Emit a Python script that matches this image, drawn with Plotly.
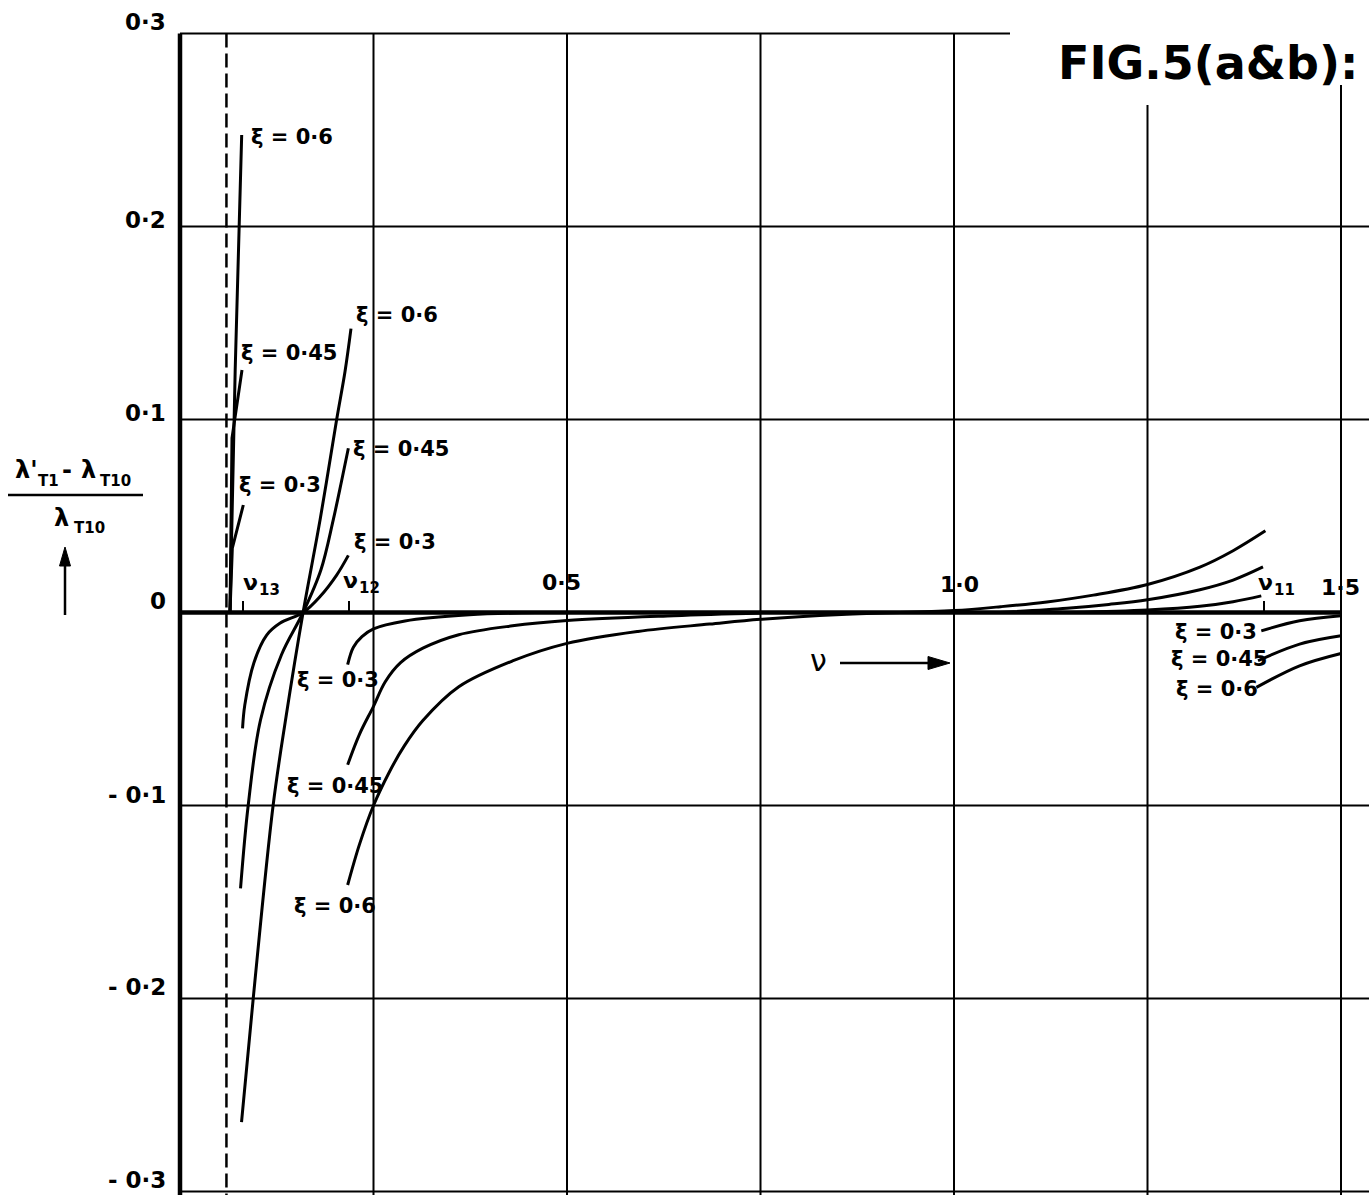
import plotly.graph_objects as go

# ---------------- data (nu, relative change) ----------------
# group near nu13
nu_a06 = [0.0646, 0.0713, 0.0797]
val_a06 = [0.0, 0.1256, 0.2474]
nu_a045 = [0.0646, 0.0672, 0.0801]
val_a045 = [0.0, 0.0904, 0.1256]
nu_a03 = [0.0646, 0.0676, 0.0818]
val_a03 = [0.0, 0.0333, 0.0557]

# group through nu12 crossing
nu_b03 = [0.0808, 0.0837, 0.0955, 0.1120, 0.1290, 0.159, 0.181, 0.2024, 0.2175]
val_b03 = [-0.060, -0.048, -0.026, -0.0117, -0.0056, 0.0, 0.0083, 0.0194, 0.0296]
nu_b045 = [0.0782, 0.0881, 0.1040, 0.131, 0.159, 0.182, 0.198, 0.2087, 0.2175]
val_b045 = [-0.143, -0.100, -0.0557, -0.022, 0.0, 0.022, 0.048, 0.068, 0.0851]
nu_b06 = [0.0795, 0.0946, 0.1203, 0.1370, 0.159, 0.181, 0.2024, 0.2132, 0.2209]
val_b06 = [-0.264, -0.200, -0.100, -0.054, 0.0, 0.048, 0.100, 0.1249, 0.1471]

# negative curves beyond nu12
nu_c03 = [0.2166, 0.2240, 0.2351, 0.25, 0.2907, 0.374, 0.46]
val_c03 = [-0.027, -0.018, -0.0125, -0.0085, -0.0044, -0.0012, 0.0]
nu_c045 = [0.2166, 0.232, 0.25, 0.265, 0.285, 0.3138, 0.3602, 0.4296, 0.5, 0.638, 0.75]
val_c045 = [-0.0789, -0.063, -0.0486, -0.036, -0.026, -0.0185, -0.0115, -0.0069, -0.0042, -0.0017, -0.0003]
nu_c06 = [0.2166, 0.232, 0.25, 0.27, 0.29, 0.3138, 0.3602, 0.4296, 0.5, 0.5916, 0.6842, 0.75, 0.8545, 0.93]
val_c06 = [-0.1412, -0.120, -0.100, -0.083, -0.069, -0.056, -0.0385, -0.0251, -0.0160, -0.0098, -0.0060, -0.0035, -0.0010, 0.0]

# positive curves up to nu11
nu_d06 = [0.93, 1.0, 1.06, 1.12, 1.18, 1.25, 1.3177, 1.3606, 1.4023]
val_d06 = [0.0, 0.0010, 0.0030, 0.0055, 0.0090, 0.0145, 0.0235, 0.0320, 0.0423]
nu_d045 = [1.06, 1.146, 1.20, 1.25, 1.3177, 1.3606, 1.3992]
val_d045 = [0.0, 0.0022, 0.0042, 0.0066, 0.0118, 0.0168, 0.0236]
nu_d03 = [1.15, 1.25, 1.3177, 1.3606, 1.397]
val_d03 = [0.0, 0.0013, 0.0032, 0.0056, 0.0086]

# negative curves beyond nu11
nu_e03 = [1.397, 1.4465, 1.5]
val_e03 = [-0.0095, -0.0043, -0.0017]
nu_e045 = [1.3928, 1.4465, 1.5]
val_e045 = [-0.025, -0.0164, -0.0121]
nu_e06 = [1.3907, 1.4465, 1.5]
val_e06 = [-0.0388, -0.0276, -0.0212]

y_ticks = [0.3, 0.2, 0.1, 0.0, -0.1, -0.2, -0.3]
y_tick_labels = ["0·3", "0·2", "0·1", "0", "- 0·1", "- 0·2", "- 0·3"]
x_tick_labels = ["0·5", "1·0", "1·5"]
nu_cut = 0.06   # dashed limit line

# ---------------- helpers for layout placement ----------------
def px(x):
    return (x - 180) / 774.0

def py(y):
    return (612.5 - y) / 1930.0

FONT = "DejaVu Sans"
fig = go.Figure()

curves = [
    (nu_a06, val_a06, "linear"), (nu_a045, val_a045, "linear"), (nu_a03, val_a03, "linear"),
    (nu_b03, val_b03, "spline"), (nu_b045, val_b045, "spline"), (nu_b06, val_b06, "spline"),
    (nu_c03, val_c03, "spline"), (nu_c045, val_c045, "spline"), (nu_c06, val_c06, "spline"),
    (nu_d06, val_d06, "spline"), (nu_d045, val_d045, "spline"), (nu_d03, val_d03, "spline"),
    (nu_e03, val_e03, "spline"), (nu_e045, val_e045, "spline"), (nu_e06, val_e06, "spline"),
]
for xs, ys, shp in curves:
    fig.add_trace(go.Scatter(x=xs, y=ys, mode="lines",
                             line=dict(color="black", width=3, shape=shp, smoothing=1.0),
                             hoverinfo="skip", showlegend=False))

shapes = []
def line(x0, y0, x1, y1, w=2, dash=None):
    d = dict(type="line", xref="x", yref="y", x0=x0, y0=y0, x1=x1, y1=y1,
             line=dict(color="black", width=w), layer="below")
    if dash:
        d["line"]["dash"] = dash
    shapes.append(d)

def tri(pts):
    path = "M " + " L ".join("%f,%f" % (px(a), py(b)) for a, b in pts) + " Z"
    shapes.append(dict(type="path", xref="x", yref="y", path=path,
                       fillcolor="black", line=dict(color="black", width=1)))

xr = px(1369)
ybot = py(1195)
# horizontal grid
for v in [0.2, 0.1, -0.1, -0.2, -0.3]:
    line(0, v, xr, v, 2)
line(0, 0.3, px(1010), 0.3, 2)
line(0, 0, 1.5, 0, 4.5)
# vertical grid
for v in [0.25, 0.5, 0.75, 1.0]:
    line(v, 0.3, v, ybot, 2)
line(1.25, py(105), 1.25, ybot, 2)
line(1.5, py(85), 1.5, ybot, 2)
# left axis
line(0, 0.3, 0, ybot, 4.5)
# dashed limit
line(nu_cut, 0.3, nu_cut, ybot, 2.5, "14px,6px")
# small ticks at nu13, nu12, nu11
for v in [px(243), px(349), px(1264)]:
    line(v, 0, v, 0.006, 2)
# fraction bar of axis title
line(px(8), py(495), px(143), py(495), 2.5)
# arrow under axis title
line(px(65), py(615), px(65), py(562), 2.5)
tri([(65, 547), (59.5, 566), (70.5, 566)])
# nu arrow
line(px(840), py(663), px(930), py(663), 2.5)
tri([(950, 663), (928, 656.5), (928, 669.5)])

ann = []
def text(x, y, t, size=20, xanchor="center", bold=True):
    ann.append(dict(x=x, y=y, xref="x", yref="y", text=t,
                    showarrow=False, xanchor=xanchor, yanchor="middle",
                    font=dict(family=FONT, size=size, color="black",
                              weight=700 if bold else 400)))

# y tick labels
ytpos = [22, 220, 413, 601, 795, 987, 1180]
for v, lab, p in zip(y_ticks, y_tick_labels, ytpos):
    text(px(168), py(p), lab, 23, "right")
# x tick labels
for lab, (xx, yy) in zip(x_tick_labels, [(561, 582), (959, 584), (1340, 587)]):
    text(px(xx), py(yy), lab, 22)

# curve labels
labels = [
    ("ξ = 0·6", 292, 137), ("ξ = 0·45", 289, 353), ("ξ = 0·3", 280, 485),
    ("ξ = 0·6", 397, 315), ("ξ = 0·45", 401, 449), ("ξ = 0·3", 395, 542),
    ("ξ = 0·3", 338, 680), ("ξ = 0·45", 335, 786), ("ξ = 0·6", 335, 906),
    ("ξ = 0·3", 1216, 632), ("ξ = 0·45", 1219, 659), ("ξ = 0·6", 1217, 689),
]
for t, xx, yy in labels:
    text(px(xx), py(yy), t, 21)

# nu markers (subscripts drawn as separate smaller texts)
for sym, sub, xx, yy in [("ν", "13", 250, 582), ("ν", "12", 350, 580), ("ν", "11", 1265, 582)]:
    text(px(xx), py(yy), sym, 22)
    text(px(xx + 7), py(yy + 8), sub, 15, "left")
text(px(818), py(660), "ν", 30, bold=False)

# axis title (fraction), subscripts as separate smaller texts
text(px(13), py(470), "λ'", 24, "left")
text(px(36), py(481), "T1", 15, "left")
text(px(67), py(470), "-", 24)
text(px(79), py(470), "λ", 24, "left")
text(px(98), py(481), "T10", 15, "left")
text(px(52), py(518), "λ", 24, "left")
text(px(72), py(528), "T10", 15, "left")

# title
text(px(1208), py(63), "FIG.5(a&b):", 46)

fig.update_layout(
    width=1369, height=1195, autosize=False,
    margin=dict(l=0, r=0, t=0, b=0),
    paper_bgcolor="white", plot_bgcolor="white",
    xaxis=dict(range=[px(0), px(1369)], visible=False, fixedrange=True),
    yaxis=dict(range=[py(1195), py(0)], visible=False, fixedrange=True),
    shapes=shapes, annotations=ann, showlegend=False,
)

fig.write_html("out.html", config={"displayModeBar": False},
               post_script="document.body.style.margin='0';")
